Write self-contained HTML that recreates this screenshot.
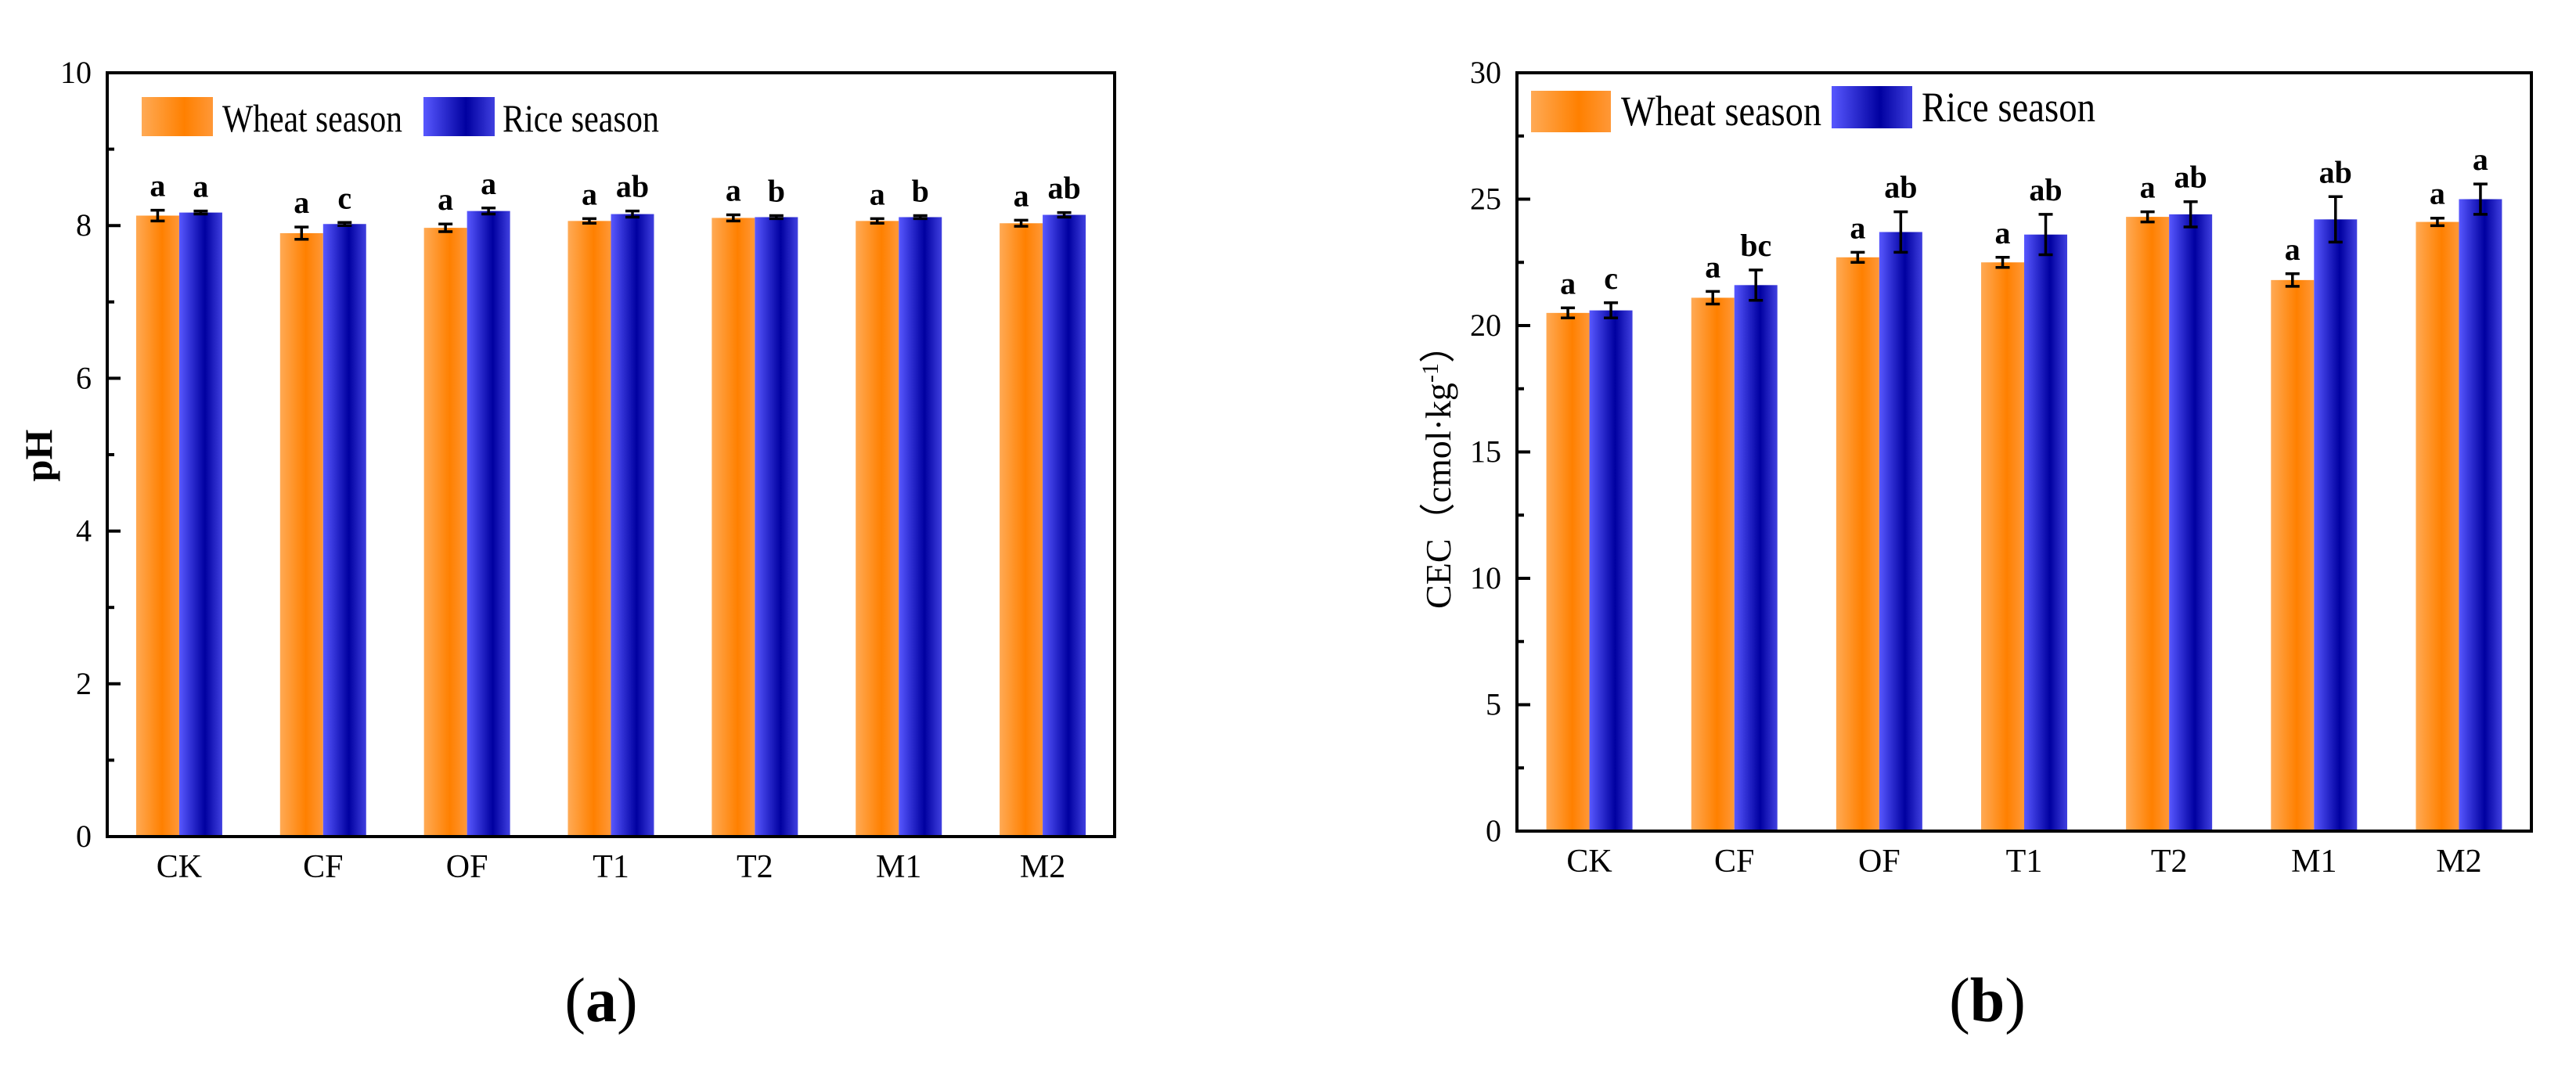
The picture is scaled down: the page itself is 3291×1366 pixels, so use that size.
<!DOCTYPE html>
<html><head><meta charset="utf-8"><style>
html,body{margin:0;padding:0;background:#fff;}
svg{display:block;font-family:"Liberation Serif","Noto Serif CJK SC",serif;}
</style></head><body>
<svg id="fig" width="3291" height="1366" viewBox="0 0 3291 1366">
<defs>
<linearGradient id="gW" x1="0" y1="0" x2="1" y2="0">
<stop offset="0" stop-color="#ffaa55"/><stop offset="0.6" stop-color="#ff8000"/><stop offset="1" stop-color="#ff9838"/>
</linearGradient>
<linearGradient id="gR" x1="0" y1="0" x2="1" y2="0">
<stop offset="0" stop-color="#5858ff"/><stop offset="0.6" stop-color="#0000a0"/><stop offset="1" stop-color="#4040e0"/>
</linearGradient>
</defs>
</svg>
<script>
const categories = ["CK","CF","OF","T1","T2","M1","M2"];
const phWheat = [8.13,7.90,7.97,8.06,8.10,8.06,8.03];
const phRice = [8.17,8.02,8.19,8.15,8.11,8.11,8.14];
const phWheatErr = [0.07,0.08,0.05,0.03,0.04,0.03,0.04];
const phRiceErr = [0.02,0.02,0.04,0.04,0.02,0.02,0.03];
const phWheatSig = ["a","a","a","a","a","a","a"];
const phRiceSig = ["a","c","a","ab","b","b","ab"];
const phTicks = [0,2,4,6,8,10];
const cecWheat = [20.5,21.1,22.7,22.5,24.3,21.8,24.1];
const cecRice = [20.6,21.6,23.7,23.6,24.4,24.2,25.0];
const cecWheatErr = [0.2,0.25,0.2,0.2,0.2,0.25,0.15];
const cecRiceErr = [0.3,0.6,0.8,0.8,0.5,0.9,0.6];
const cecWheatSig = ["a","a","a","a","a","a","a"];
const cecRiceSig = ["c","bc","ab","ab","ab","ab","a"];
const cecTicks = [0,5,10,15,20,25,30];

const svg = document.getElementById('fig');
const NS = 'http://www.w3.org/2000/svg';
function mk(tag, attrs, parent){const e=document.createElementNS(NS,tag);for(const k in attrs)e.setAttribute(k,attrs[k]);(parent||svg).appendChild(e);return e;}

function panel(o){
  const g = mk('g',{});
  
  
  const y = v => o.y0 - (v - o.min)/(o.max - o.min)*(o.y0 - o.y1);
  const band = (o.x1 - o.x0)/categories.length;
  const bw = 55;
  categories.forEach((c,i)=>{
    const cx = o.x0 + band*(i+0.5);
    [[o.w,o.we,o.ws,'url(#gW)',-1,'wheat'],[o.r,o.re,o.rs,'url(#gR)',0,'rice']].forEach(s=>{
      const v=s[0][i], e=s[1][i];
      const bx = cx + s[4]*bw;
      const r = mk('rect',{x:bx,y:y(v),width:bw,height:o.y0-y(v),fill:s[3]},g);
      
      
      const mx = bx+bw/2;
      const eb = mk('path',{d:`M${mx},${y(v+e)}V${y(v-e)}M${mx-9},${y(v+e)}H${mx+9}M${mx-9},${y(v-e)}H${mx+9}`,stroke:'#000','stroke-width':3.5,fill:'none'},g);
      
      
      const t = mk('text',{x:mx,y:y(v+e)-18,'text-anchor':'middle','font-size':40,'font-weight':'bold'},g);
      t.textContent = s[2][i];
      
      
    });
    const xl = mk('text',{x:cx,y:o.y0+52,'text-anchor':'middle','font-size':42},g);
    xl.textContent = c;
    
    
  });
  const fr = mk('rect',{x:o.x0,y:o.y1,width:o.x1-o.x0,height:o.y0-o.y1,fill:'none',stroke:'#000','stroke-width':4},g);
  
  
  o.ticks.forEach((t,i)=>{
    const ty=y(t);
    mk('line',{x1:o.x0,x2:o.x0+17,y1:ty,y2:ty,stroke:'#000','stroke-width':4},g);
    if(i<o.ticks.length-1){const my=y((t+o.ticks[i+1])/2);mk('line',{x1:o.x0,x2:o.x0+9,y1:my,y2:my,stroke:'#000','stroke-width':4},g);}
    const tl = mk('text',{x:o.x0-20,y:ty+13,'text-anchor':'end','font-size':40},g);
    tl.textContent = t;
    
    
  });
  return g;
}
panel({name:'ph-chart',x0:137,x1:1424,y0:1069,y1:93,min:0,max:10,ticks:phTicks,w:phWheat,r:phRice,we:phWheatErr,re:phRiceErr,ws:phWheatSig,rs:phRiceSig});
panel({name:'cec-chart',x0:1938,x1:3234,y0:1062,y1:93,min:0,max:30,ticks:cecTicks,w:cecWheat,r:cecRice,we:cecWheatErr,re:cecRiceErr,ws:cecWheatSig,rs:cecRiceSig});
</script>
<svg style="position:absolute;left:0;top:0" width="3291" height="1366">
<g font-family="Liberation Serif, serif">
<text x="0" y="0" transform="translate(66,582) rotate(-90)" text-anchor="middle" font-size="50" font-weight="bold">pH</text>
<text x="0" y="0" transform="translate(1853,598) rotate(-90)" text-anchor="middle" font-size="46" textLength="360" lengthAdjust="spacingAndGlyphs">CEC（cmol·kg<tspan baseline-shift="super" font-size="30">-1</tspan>）</text>
<g>
<rect x="181" y="124" width="91" height="50" fill="url(#gW)"/>
<text x="284" y="168" font-size="50" textLength="230" lengthAdjust="spacingAndGlyphs">Wheat season</text>
<rect x="541" y="124" width="91" height="50" fill="url(#gR)"/>
<text x="642" y="168" font-size="50" textLength="200" lengthAdjust="spacingAndGlyphs">Rice season</text>
</g>
<g>
<rect x="1956" y="116" width="102" height="53" fill="url(#gW)"/>
<text x="2071" y="160" font-size="54" textLength="256" lengthAdjust="spacingAndGlyphs">Wheat season</text>
<rect x="2340" y="110" width="103" height="54" fill="url(#gR)"/>
<text x="2455" y="155" font-size="54" textLength="222" lengthAdjust="spacingAndGlyphs">Rice season</text>
</g>
<text x="768" y="1305" text-anchor="middle" font-size="80">(<tspan font-weight="bold">a</tspan>)</text>
<text x="2539" y="1305" text-anchor="middle" font-size="80">(<tspan font-weight="bold">b</tspan>)</text>
</g>
</svg>
</body></html>
